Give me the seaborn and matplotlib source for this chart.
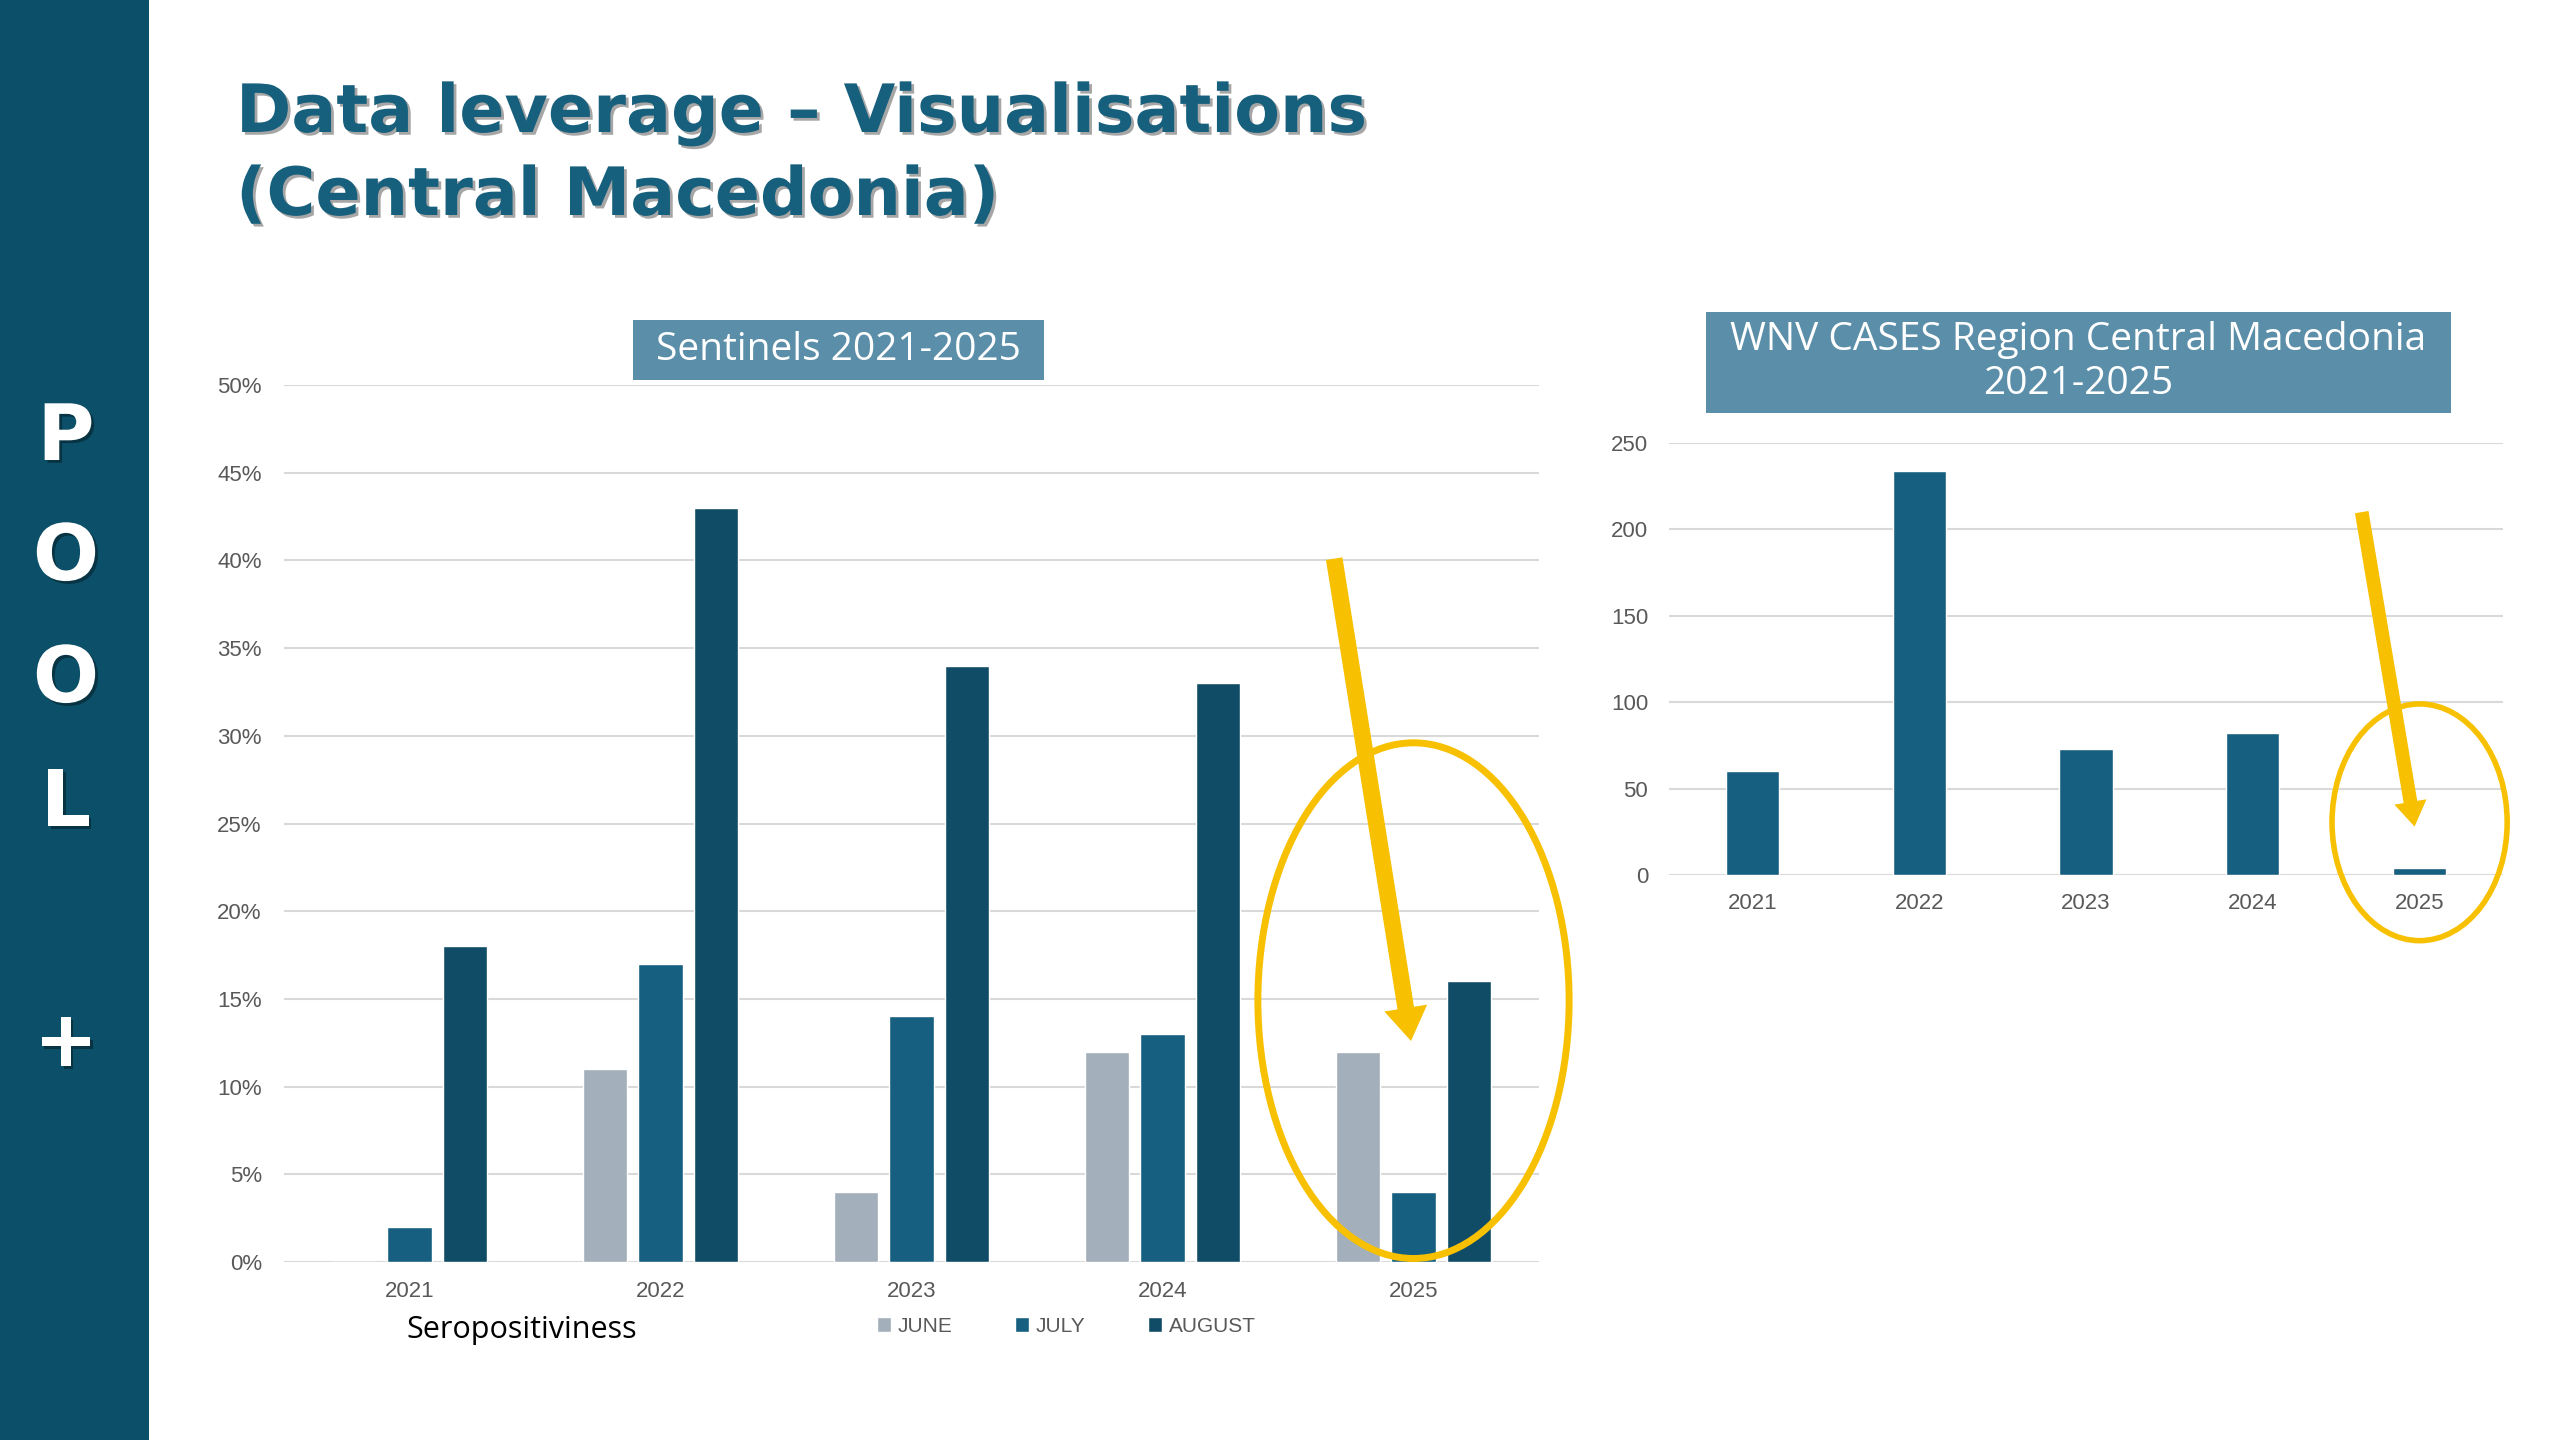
import pandas as pd
import seaborn as sns
import matplotlib.pyplot as plt
from matplotlib.patches import Rectangle, Ellipse
import matplotlib.patheffects as pe

# chart data
years = ['2021', '2022', '2023', '2024', '2025']
months = ['JUNE', 'JULY', 'AUGUST']
june = [0, 11, 4, 12, 12]
july = [2, 17, 14, 13, 4]
august = [18, 43, 34, 33, 16]
wnv_cases = [60, 234, 73, 82, 4]
pct_ticks = [0, 5, 10, 15, 20, 25, 30, 35, 40, 45, 50]
case_ticks = [0, 50, 100, 150, 200, 250]

month_colors = ['#a3afba', '#175f80', '#114c67']
teal = '#0b4f68'
title_blue = '#17607d'
box_blue = '#5b8ea8'
yellow = '#f7c000'
grid_grey = '#d9d9d9'
tick_grey = '#595959'

sns.set_theme(style='white')
plt.rcParams['font.family'] = ['Liberation Sans', 'DejaVu Sans']

df_sent = pd.DataFrame({
    'year': years * 3,
    'month': [m for m in months for _ in years],
    'value': june + july + august,
})
df_wnv = pd.DataFrame({'year': years, 'cases': wnv_cases})

W, H = 2560, 1440
fig = plt.figure(figsize=(25.6, 14.4), dpi=100)
fig.patch.set_facecolor('white')

def fx(px):
    return px / W

def fy(py):
    return 1 - py / H

shadow = [pe.withSimplePatchShadow(offset=(2, -2), shadow_rgbFace='black', alpha=0.35)]

# side bar with POOL+
fig.add_artist(Rectangle((0, 0), fx(149), 1, transform=fig.transFigure,
                         facecolor=teal, edgecolor='none', zorder=0))
for letter, py in zip('POOL+', [438, 558, 680, 804, 1044]):
    fig.text(fx(66), fy(py), letter, ha='center', va='center', color='white',
             fontsize=56, fontweight='bold', family='DejaVu Sans', path_effects=shadow)

# slide title
fig.text(fx(236), fy(132), 'Data leverage – Visualisations', ha='left', va='baseline',
         fontsize=48, fontweight='bold', color=title_blue, family='DejaVu Sans',
         path_effects=shadow)
fig.text(fx(236), fy(215), '(Central Macedonia)', ha='left', va='baseline',
         fontsize=48, fontweight='bold', color=title_blue, family='DejaVu Sans',
         path_effects=shadow)

# left chart: sentinels
ax1 = fig.add_axes([fx(284), fy(1262), fx(1539 - 284), (1262 - 385) / H])
sns.barplot(data=df_sent, x='year', y='value', hue='month', hue_order=months,
            palette=month_colors, width=0.66, gap=0.2, saturation=1, ax=ax1)
ax1.set_xlim(-0.5, 4.5)
ax1.set_ylim(0, 50)
ax1.set_yticks(pct_ticks)
ax1.set_yticklabels([f'{t}%' for t in pct_ticks])
ax1.yaxis.grid(True, color=grid_grey, lw=1.5)
ax1.set_axisbelow(True)
ax1.set_xlabel('')
ax1.set_ylabel('')
sns.despine(ax=ax1, left=True, bottom=True)
ax1.tick_params(axis='y', length=0, labelsize=16, labelcolor=tick_grey, pad=16)
ax1.tick_params(axis='x', length=0, labelsize=16, labelcolor=tick_grey, pad=14)
ax1.legend(loc='center', bbox_to_anchor=(fx(1066), fy(1326)), bbox_transform=fig.transFigure,
           ncol=3, frameon=False, fontsize=15, handlelength=0.7, handleheight=0.7,
           columnspacing=3.0, handletextpad=0.3, labelcolor=tick_grey)

fig.add_artist(Rectangle((fx(633), fy(380)), fx(411), 60 / H, transform=fig.transFigure,
                         facecolor=box_blue, edgecolor='none'))
fig.text(fx(838), fy(350), 'Sentinels 2021-2025', ha='center', va='center',
         color='white', fontsize=28, family='Open Sans')
fig.text(fx(406), fy(1330), 'Seropositiviness', ha='left', va='center',
         color='black', fontsize=22, family='Open Sans')

ax1.add_patch(Ellipse((4, 14.9), 1.24, 29.4, fill=False, edgecolor=yellow,
                      lw=5, clip_on=False, zorder=5))
ax1.annotate('', xy=(3.99, 12.6), xytext=(3.684, 40.1),
             arrowprops=dict(arrowstyle='simple,head_length=1.0,head_width=1.3,tail_width=0.5',
                             mutation_scale=24, fc=yellow, ec='none', shrinkA=0, shrinkB=0),
             zorder=6, annotation_clip=False)

# right chart: WNV cases
ax2 = fig.add_axes([fx(1669), fy(875), fx(834), (875 - 443) / H])
sns.barplot(data=df_wnv, x='year', y='cases', color=month_colors[1], width=0.32,
            saturation=1, ax=ax2)
ax2.set_xlim(-0.5, 4.5)
ax2.set_ylim(0, 250)
ax2.set_yticks(case_ticks)
ax2.yaxis.grid(True, color=grid_grey, lw=1.5)
ax2.set_axisbelow(True)
ax2.set_xlabel('')
ax2.set_ylabel('')
sns.despine(ax=ax2, left=True, bottom=True)
ax2.tick_params(axis='y', length=0, labelsize=16, labelcolor=tick_grey, pad=15)
ax2.tick_params(axis='x', length=0, labelsize=16, labelcolor=tick_grey, pad=13)

fig.add_artist(Rectangle((fx(1706), fy(413)), fx(745), 101 / H, transform=fig.transFigure,
                         facecolor=box_blue, edgecolor='none'))
fig.text(fx(2078), fy(362), 'WNV CASES Region Central Macedonia\n2021-2025', ha='center',
         va='center', color='white', fontsize=28, family='Open Sans', linespacing=1.2)

ax2.add_patch(Ellipse((4, 30.5), 1.05, 137, fill=False, edgecolor=yellow,
                      lw=4, clip_on=False, zorder=5))
ax2.annotate('', xy=(3.97, 28), xytext=(3.653, 210),
             arrowprops=dict(arrowstyle='simple,head_length=1.0,head_width=1.3,tail_width=0.55',
                             mutation_scale=18, fc=yellow, ec='none', shrinkA=0, shrinkB=0),
             zorder=6, annotation_clip=False)

fig.savefig('out.png', dpi=100)
